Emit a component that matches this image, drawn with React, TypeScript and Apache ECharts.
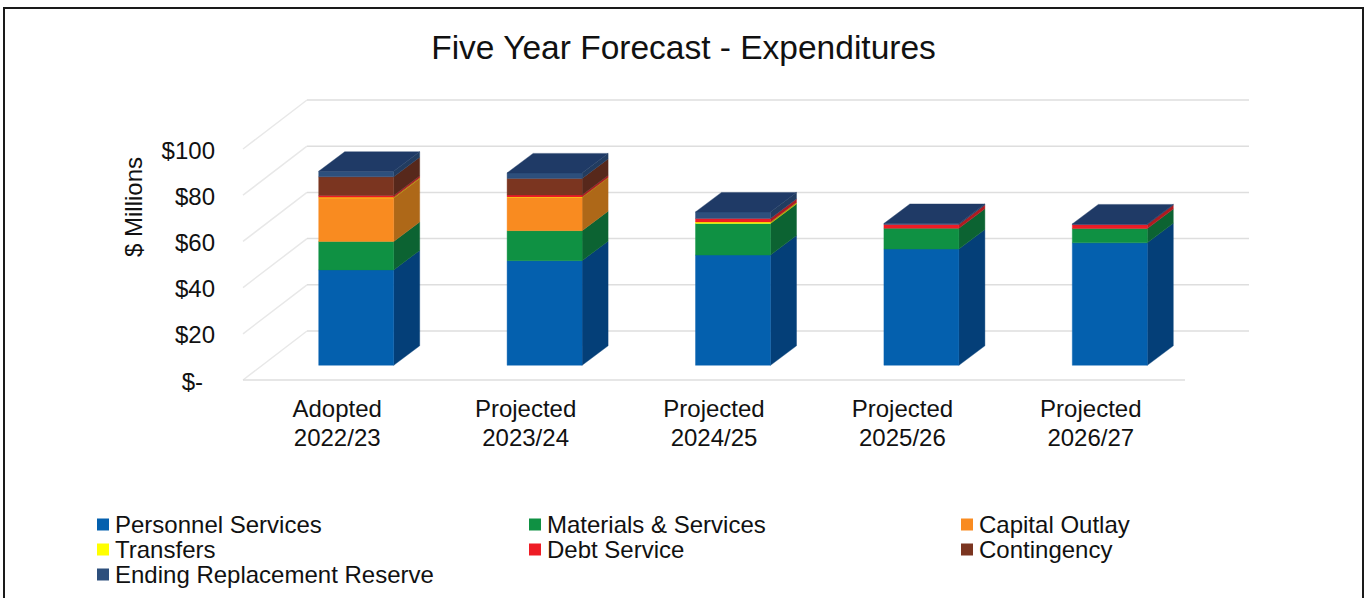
import React, { useEffect, useRef } from "react";
import * as echarts from "echarts";

const categories = ["Adopted\n2022/23", "Projected\n2023/24", "Projected\n2024/25", "Projected\n2025/26", "Projected\n2026/27"];
const yTicks = [0, 20, 40, 60, 80, 100];

const personnel = [41.3, 45.3, 47.7, 50.3, 53.0];
const materials = [12.3, 13.0, 13.7, 9.0, 6.2];
const capital = [18.8, 14.4, 0, 0, 0];
const transfers = [0.3, 0.2, 0.6, 0, 0];
const debt = [0.8, 0.8, 1.5, 1.7, 1.7];
const contingency = [8.1, 7.2, 0, 0, 0];
const reserve = [2.4, 2.4, 2.9, 0.4, 0.3];

const FONT = "Liberation Sans";
const TEXT = "#111111";
const LABEL_SIZE = 24;

const segments = [
  { name: "Personnel Services", values: personnel, front: "#0460ae", side: "#043f78" },
  { name: "Materials & Services", values: materials, front: "#0f9143", side: "#0c6332" },
  { name: "Capital Outlay", values: capital, front: "#f98b20", side: "#ae6818" },
  { name: "Transfers", values: transfers, front: "#ffff00", side: "#b0b000" },
  { name: "Debt Service", values: debt, front: "#ee1c25", side: "#b01a20" },
  { name: "Contingency", values: contingency, front: "#7b3520", side: "#57281b" },
  { name: "Ending Replacement Reserve", values: reserve, front: "#2d4f7c", side: "#223c60", top: "#1f3a66" },
];

// Layout of the pseudo-3D box, in pixels
const FLOOR_DX = 64;
const FLOOR_DY = 49;
const BAR_OFFSET_X = 19;
const BAR_OFFSET_Y = 14.7;
const BAR_DEPTH_X = 26;
const BAR_DEPTH_Y = 19.5;
const BAR_WIDTH = 75;

function gridLineRenderer(params: any, api: any) {
  const cs = params.coordSys;
  const y = api.coord([0, api.value(1)])[1];
  const left = cs.x;
  const right = cs.x + cs.width;
  const children: any[] = [
    { type: "line", shape: { x1: left, y1: y, x2: left + FLOOR_DX, y2: y - FLOOR_DY }, style: { stroke: "#e8e8e8", lineWidth: 1.5 } },
    { type: "line", shape: { x1: left + FLOOR_DX, y1: y - FLOOR_DY, x2: right + FLOOR_DX, y2: y - FLOOR_DY }, style: { stroke: "#dedede", lineWidth: 1.5 } },
  ];
  if (api.value(1) === 0) {
    children.push({ type: "line", shape: { x1: left, y1: y, x2: right, y2: y }, style: { stroke: "#dedede", lineWidth: 1.5 } });
  }
  return { type: "group", children };
}

function barRenderer(seg: any) {
  return (_params: any, api: any) => {
    const idx = api.value(0);
    const a = api.coord([idx, api.value(1)]);
    const b = api.coord([idx, api.value(2)]);
    const x0 = a[0] + BAR_OFFSET_X - BAR_WIDTH / 2;
    const x1 = x0 + BAR_WIDTH;
    const y0 = a[1] - BAR_OFFSET_Y;
    const y1 = b[1] - BAR_OFFSET_Y;
    const dx = BAR_DEPTH_X;
    const dy = BAR_DEPTH_Y;
    const poly = (points: number[][], fill: string) => ({
      type: "polygon",
      shape: { points },
      style: { fill, stroke: fill, lineWidth: 0.4 },
    });
    const children: any[] = [
      poly([[x1, y0], [x1 + dx, y0 - dy], [x1 + dx, y1 - dy], [x1, y1]], seg.side),
      poly([[x0, y0], [x1, y0], [x1, y1], [x0, y1]], seg.front),
    ];
    if (seg.top) {
      children.push(poly([[x0, y1], [x1, y1], [x1 + dx, y1 - dy], [x0 + dx, y1 - dy]], seg.top));
    }
    return { type: "group", children };
  };
}

function buildSeries() {
  const totals = categories.map(() => 0);
  const bars = segments.map((seg) => {
    const data: number[][] = [];
    seg.values.forEach((v, i) => {
      data.push([i, totals[i], totals[i] + v]);
      totals[i] += v;
    });
    return {
      type: "custom",
      name: seg.name,
      renderItem: barRenderer(seg),
      data: data.filter((d) => d[2] > d[1]),
      encode: { x: 0, y: [1, 2] },
      itemStyle: { color: seg.front },
      clip: false,
      silent: true,
      z: 3,
    };
  });
  const grid = {
    type: "custom",
    name: "gridlines",
    renderItem: gridLineRenderer,
    data: yTicks.map((v) => [0, v]),
    encode: { x: 0, y: 1 },
    clip: false,
    silent: true,
    z: 1,
  };
  return [grid, ...bars];
}

function legendColumn(names: string[], left: number) {
  return {
    data: names,
    orient: "vertical",
    left,
    top: 512,
    padding: 0,
    icon: "rect",
    itemWidth: 12,
    itemHeight: 12,
    itemGap: 0,
    itemStyle: { borderWidth: 0 },
    selectedMode: false,
    textStyle: { fontFamily: FONT, fontSize: LABEL_SIZE, color: TEXT, padding: [0, 0, 0, 1], lineHeight: 25, height: 25 },
  };
}

export default function App() {
  const ref = useRef<HTMLDivElement>(null);
  useEffect(() => {
    const chart = echarts.init(ref.current!, undefined, { renderer: "svg" });
    chart.setOption({
      animation: false,
      backgroundColor: "#ffffff",
      title: {
        text: "Five Year Forecast - Expenditures",
        left: "center",
        top: 25,
        textStyle: { fontFamily: FONT, fontSize: 33.5, fontWeight: "normal", color: TEXT },
      },
      grid: { left: 243, top: 149, width: 942, height: 231 },
      xAxis: {
        type: "category",
        data: categories,
        axisLine: { show: false },
        axisTick: { show: false },
        splitLine: { show: false },
        axisLabel: { fontFamily: FONT, fontSize: LABEL_SIZE, color: TEXT, lineHeight: 29, margin: 14 },
      },
      yAxis: {
        type: "value",
        min: 0,
        max: 100,
        interval: 20,
        axisLine: { show: false },
        axisTick: { show: false },
        splitLine: { show: false },
        axisLabel: {
          fontFamily: FONT,
          fontSize: LABEL_SIZE,
          color: TEXT,
          margin: 28,
          padding: [2, 0, 0, 0],
          formatter: (v: number) => (v === 0 ? "{z|$-}" : `$${v}`),
          rich: { z: { fontFamily: FONT, fontSize: LABEL_SIZE, color: TEXT, padding: [0, 12, 0, 0] } },
        },
      },
      legend: [
        legendColumn(["Personnel Services", "Transfers", "Ending Replacement Reserve"], 97),
        legendColumn(["Materials & Services", "Debt Service"], 529),
        legendColumn(["Capital Outlay", "Contingency"], 961),
      ],
      graphic: [
        {
          type: "rect",
          shape: { x: 4, y: 8, width: 1359, height: 640 },
          style: { fill: "none", stroke: "#1a1a1a", lineWidth: 2 },
          silent: true,
          z: 10,
        },
        {
          type: "text",
          x: 133,
          y: 207,
          rotation: Math.PI / 2,
          style: { text: "$ Millions", fontFamily: FONT, fontSize: LABEL_SIZE, fill: TEXT, align: "center", verticalAlign: "middle" },
          silent: true,
        },
      ],
      series: buildSeries(),
    });
    return () => chart.dispose();
  }, []);
  return <div ref={ref} style={{ position: "fixed", left: 0, top: 0, width: 1367, height: 598 }} />;
}
